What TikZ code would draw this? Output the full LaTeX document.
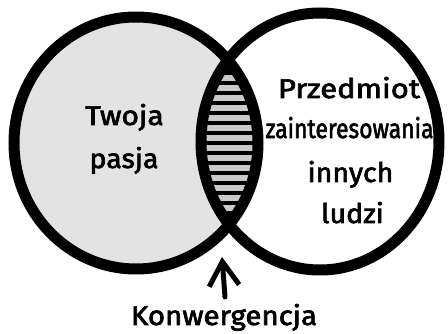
\documentclass[tikz,border=0pt]{standalone}
\usepackage{fontspec}
\setmainfont{Fira Sans}[FakeBold=2.5, FakeStretch=1.06]
\usetikzlibrary{arrows.meta}
\definecolor{fillgray}{HTML}{E3E3E3}
\definecolor{stripegray}{HTML}{CACACA}
\tikzset{
  ring/.style={draw=black, line width=11pt},
  lbl/.style={anchor=base, inner sep=0pt, font=\fontsize{27}{27}\selectfont},
  pointer/.style={line width=5pt, line cap=round, -{Straight Barb[length=24pt,width=30pt,line width=5pt]}}
}
\begin{document}
\begin{tikzpicture}[x=1pt,y=-1pt]
\useasboundingbox (0,0) rectangle (448,334);
% fills
\fill[fillgray] (136,143) ellipse [x radius=122, y radius=126];
\begin{scope}
  \clip (136,143) ellipse [x radius=122, y radius=126];
  \clip (320,141.5) ellipse [x radius=119, y radius=128.5];
  \fill[black] (190,50) rectangle (270,240);
  \foreach \k in {0,...,13} {
    \fill[stripegray] (190,{75.5+10*\k}) rectangle (270,{81.5+10*\k});
  }
\end{scope}
% outlines
\draw[ring] (136,143) ellipse [x radius=122, y radius=126];
\draw[ring] (320,141.5) ellipse [x radius=119, y radius=128.5];
% texts
\node[lbl] (t1) at (124.5,125) {\scalebox{1.05}[1]{Twoja}};
\node[lbl] (t2) at (124,168) {pasja};
\node[lbl] (r1) at (349,98) {\scalebox{1.08}[1]{Przedmiot}};
\node[lbl] (r2) at (349.5,138) {\scalebox{0.8}[1]{zainteresowania}};
\node[lbl] (r3) at (350.5,182) {innych};
\node[lbl] (r4) at (352.5,223) {ludzi};
\node[lbl] (conv) at (224,325) {\scalebox{1.03}[1]{Konwergencja}};
% arrow
\coordinate (tail) at (225,297);
\coordinate (tip) at (222,257);
\draw[pointer] (tail) -- (tip);
\end{tikzpicture}
\end{document}
